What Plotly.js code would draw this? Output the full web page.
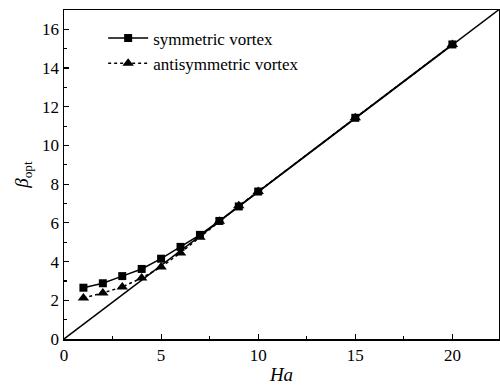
<!DOCTYPE html>
<html><head><meta charset="utf-8">
<script src="https://cdn.plot.ly/plotly-3.0.1.min.js"></script>
<style>
html,body{margin:0;padding:0;background:#fff}
#chart{width:500px;height:389px}
</style>
</head><body><div id="chart"></div>
<script>
const ha = [1, 2, 3, 4, 5, 6, 7, 8, 9, 10, 15, 20];
const symmetric = [2.65, 2.88, 3.25, 3.62, 4.15, 4.76, 5.38, 6.1, 6.85, 7.62, 11.43, 15.22];
const antisymmetric = [2.12, 2.38, 2.69, 3.15, 3.72, 4.45, 5.26, 6.08, 6.88, 7.62, 11.43, 15.22];
const refX = [0, 22.4];
const refY = [0, 17.02];
const xTicks = [0, 5, 10, 15, 20];
const yTicks = [0, 2, 4, 6, 8, 10, 12, 14, 16];

const fam = 'Times New Roman';
const font = {family: fam, size: 17, color: '#000'};
const traces = [
  {x: refX, y: refY, mode: 'lines', line: {color: '#000', width: 1.5}, showlegend: false, hoverinfo: 'skip'},
  {x: ha, y: symmetric, mode: 'lines+markers', name: 'symmetric vortex',
   line: {color: '#000', width: 1.5}, marker: {symbol: 'square', size: 8, color: '#000'}},
  {x: ha, y: antisymmetric, mode: 'lines+markers', name: 'antisymmetric vortex',
   line: {color: '#000', width: 1.5, dash: 'dot'}, marker: {symbol: 'triangle-up', size: 10, color: '#000'}}
];
const axisCommon = {showline: true, linecolor: '#000', linewidth: 1.5, mirror: true, ticks: 'inside',
  ticklen: 5, tickwidth: 1.2, tickcolor: '#000', showgrid: false, zeroline: false,
  tickfont: {family: fam, size: 17, color: '#000'}};
const layout = {
  width: 500, height: 389,
  margin: {l: 64, r: 1, t: 10, b: 50},
  paper_bgcolor: '#fff', plot_bgcolor: '#fff',
  font: {family: fam, size: 17, color: '#000'},
  showlegend: true,
  legend: {x: 0.09, y: 0.968, xanchor: 'left', yanchor: 'top', bgcolor: 'rgba(0,0,0,0)',
    font: {family: fam, size: 17, color: '#000'}, tracegroupgap: 0, itemwidth: 40},
  xaxis: Object.assign({}, axisCommon, {range: [0, 22.4], tickvals: xTicks, ticktext: xTicks.map(String),
    minor: {dtick: 2.5, tick0: 0, ticks: 'inside', ticklen: 3, tickwidth: 1.2, tickcolor: '#000', showgrid: false},
    title: {text: '<i>Ha</i>', font: {family: fam, size: 19}, standoff: 4}}),
  yaxis: Object.assign({}, axisCommon, {range: [0, 17], tickvals: yTicks, ticktext: yTicks.map(String),
    minor: {dtick: 1, tick0: 0, ticks: 'inside', ticklen: 3, tickwidth: 1.2, tickcolor: '#000', showgrid: false},
    title: {text: '<i>β</i><sub>opt</sub>', font: {family: fam, size: 19}, standoff: 8}})
};
Plotly.newPlot('chart', traces, layout, {displayModeBar: false, staticPlot: true});
</script></body></html>
